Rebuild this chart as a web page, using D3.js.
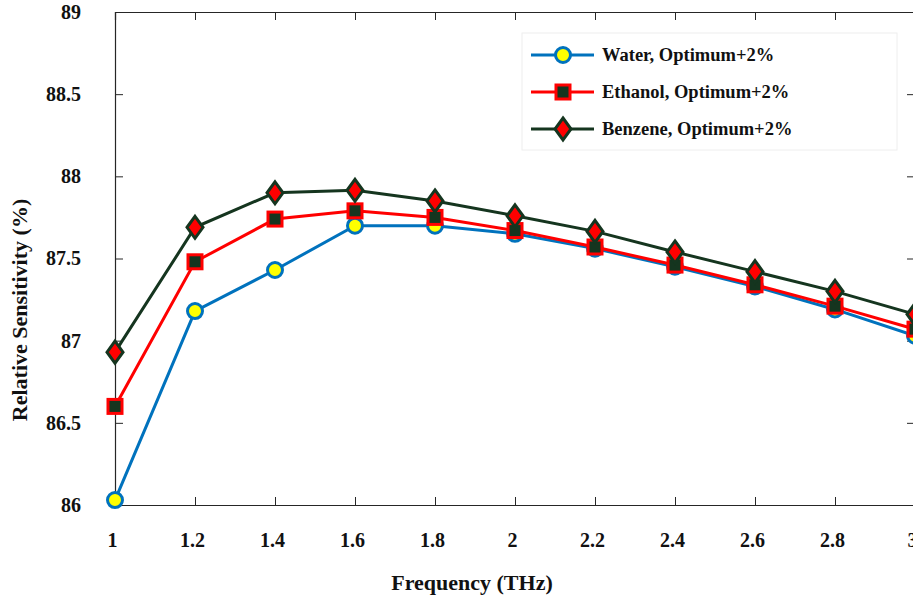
<!DOCTYPE html>
<html>
<head>
<meta charset="utf-8">
<script src="https://cdn.jsdelivr.net/npm/d3@7"></script>
<style>
  body { margin: 0; background: #fff; }
  svg { display: block; }
  text { font-family: "Liberation Serif", "Times New Roman", serif; font-weight: bold; }
</style>
</head>
<body>
<svg id="chart" width="913" height="600"></svg>
<script>

var freq = [1, 1.2, 1.4, 1.6, 1.8, 2, 2.2, 2.4, 2.6, 2.8, 3];
var water = [86.03, 87.18, 87.43, 87.70, 87.70, 87.65, 87.56, 87.45, 87.33, 87.19, 87.03];
var ethanol = [86.60, 87.48, 87.74, 87.79, 87.75, 87.67, 87.57, 87.46, 87.34, 87.21, 87.07];
var benzene = [86.93, 87.69, 87.90, 87.915, 87.85, 87.76, 87.665, 87.54, 87.42, 87.30, 87.16];
var xTicks = [1, 1.2, 1.4, 1.6, 1.8, 2, 2.2, 2.4, 2.6, 2.8, 3];
var yTicks = [86, 86.5, 87, 87.5, 88, 88.5, 89];
var seriesNames = ["Water, Optimum+2%", "Ethanol, Optimum+2%", "Benzene, Optimum+2%"];

var svg = d3.select("#chart");

var plotLeft = 115, plotRight = 915, plotTop = 12, plotBottom = 505;

var x = d3.scaleLinear().domain([1, 3]).range([plotLeft, plotRight]);
var y = d3.scaleLinear().domain([86, 89]).range([plotBottom, plotTop]);

var axisColor = "#262626";

// box + inward ticks
var gx = svg.append("g").attr("transform", "translate(0," + plotBottom + ")")
	.call(d3.axisBottom(x).tickValues(xTicks).tickSize(-8).tickPadding(28)
		.tickFormat(function (d) { return d3.format("~g")(d); }));
var gxt = svg.append("g").attr("transform", "translate(0," + plotTop + ")")
	.call(d3.axisTop(x).tickValues(xTicks).tickSize(-8).tickFormat(""));
var gy = svg.append("g").attr("transform", "translate(" + plotLeft + ",0)")
	.call(d3.axisLeft(y).tickValues(yTicks).tickSize(-8).tickPadding(34)
		.tickFormat(function (d) { return d3.format("~g")(d); }));
var gyr = svg.append("g").attr("transform", "translate(" + plotRight + ",0)")
	.call(d3.axisRight(y).tickValues(yTicks).tickSize(-8).tickFormat(""));

[gx, gxt, gy, gyr].forEach(function (g) {
	g.select(".domain").attr("stroke", axisColor).attr("stroke-width", 1.2);
	g.selectAll(".tick line").attr("stroke", axisColor).attr("stroke-width", 1);
	g.selectAll(".tick text").attr("fill", "#111").style("font-size", "20px")
		.style("font-family", "'Liberation Serif', serif").style("font-weight", "bold");
});
gx.selectAll(".tick text").attr("dy", "0.71em").attr("dx", -3);

// axis titles
svg.append("text")
	.attr("x", 472).attr("y", 590)
	.attr("text-anchor", "middle")
	.style("font-size", "22px").attr("fill", "#111")
	.text("Frequency (THz)");

svg.append("text")
	.attr("transform", "translate(27,310) rotate(-90)")
	.attr("text-anchor", "middle")
	.style("font-size", "22px").attr("fill", "#111")
	.text("Relative Sensitivity (%)");

var blue = "#0072BD", red = "#FF0000", dark = "#15351F", yellow = "#FFFF00";

var line = d3.line()
	.x(function (d, i) { return x(freq[i]); })
	.y(function (d) { return y(d); });

function circleMark(g, cx, cy) {
	g.append("circle").attr("cx", cx).attr("cy", cy).attr("r", 7.5)
		.attr("fill", yellow).attr("stroke", blue).attr("stroke-width", 3);
}
function squareMark(g, cx, cy) {
	g.append("rect").attr("x", cx - 7).attr("y", cy - 7).attr("width", 14).attr("height", 14)
		.attr("fill", dark).attr("stroke", red).attr("stroke-width", 3);
}
function diamondMark(g, cx, cy) {
	g.append("path")
		.attr("d", "M" + cx + "," + (cy - 11) + "L" + (cx + 8) + "," + cy + "L" + cx + "," + (cy + 11) + "L" + (cx - 8) + "," + cy + "Z")
		.attr("fill", red).attr("stroke", dark).attr("stroke-width", 3).attr("stroke-linejoin", "miter");
}

var series = [
	{ values: water, color: blue, mark: circleMark },
	{ values: ethanol, color: red, mark: squareMark },
	{ values: benzene, color: dark, mark: diamondMark }
];

var plot = svg.append("g");
series.forEach(function (s) {
	var g = plot.append("g");
	g.append("path").datum(s.values)
		.attr("d", line)
		.attr("fill", "none")
		.attr("stroke", s.color)
		.attr("stroke-width", 3);
	s.values.forEach(function (v, i) {
		s.mark(g, x(freq[i]), y(v));
	});
});

// legend
var legend = svg.append("g");
legend.append("rect")
	.attr("x", 522).attr("y", 33).attr("width", 375).attr("height", 117)
	.attr("fill", "#fff").attr("stroke", "#eeeeee").attr("stroke-width", 1);

series.forEach(function (s, i) {
	var ly = 55 + i * 37;
	legend.append("line")
		.attr("x1", 531).attr("x2", 594).attr("y1", ly).attr("y2", ly)
		.attr("stroke", s.color).attr("stroke-width", 3);
	s.mark(legend, 563, ly);
	legend.append("text")
		.attr("x", 602).attr("y", ly).attr("dy", "0.35em")
		.style("font-size", "18.5px").attr("fill", "#111")
		.text(seriesNames[i]);
});

</script>
</body>
</html>
